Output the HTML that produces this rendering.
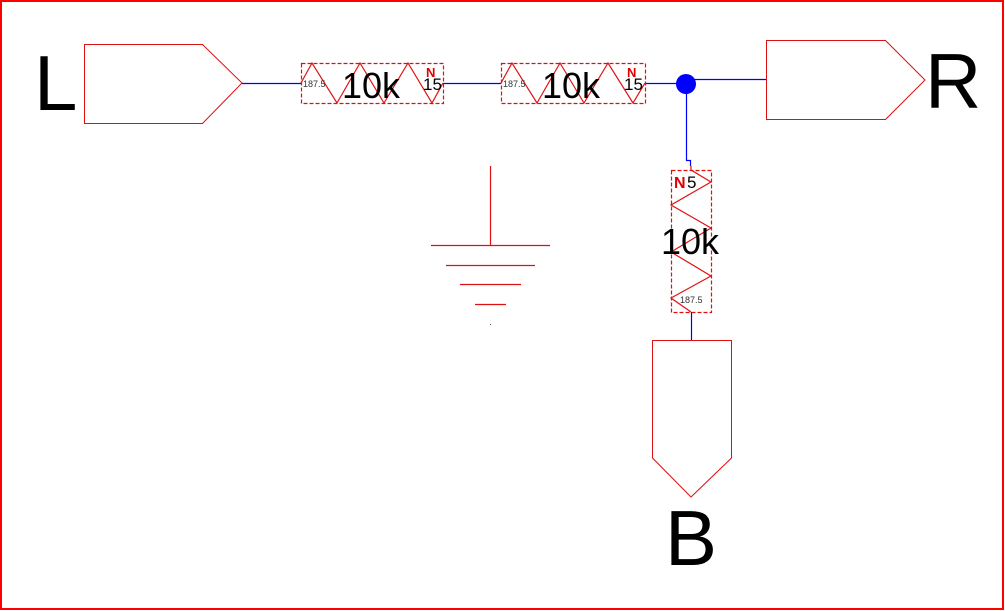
<!DOCTYPE html>
<html><head><style>
html,body{margin:0;padding:0;background:#fff;}
svg{display:block;}
text{font-family:"Liberation Sans",Arial,sans-serif;}
</style></head><body>
<svg width="1005" height="611" viewBox="0 0 1005 611" xmlns="http://www.w3.org/2000/svg">
<rect x="1" y="1" width="1002" height="608" fill="none" stroke="#f00" stroke-width="2"/>
<polygon points="84.5,44.5 202.5,44.5 242,83 202.5,123.5 84.5,123.5" fill="none" stroke="#e01010" stroke-width="1"/>
<text x="34" y="110" font-size="78">L</text>
<polygon points="766.5,40.5 885.5,40.5 925,80 885.5,119.5 766.5,119.5" fill="none" stroke="#e01010" stroke-width="1"/>
<text x="925" y="108" font-size="78">R</text>
<polygon points="652.5,340.5 731.5,340.5 731.5,458 691,497 652.5,458" fill="none" stroke="#e01010" stroke-width="1"/>
<text x="665" y="565" font-size="78">B</text>
<g stroke="#0000ff" stroke-width="1.2" fill="none">
<line x1="242" y1="83.5" x2="301" y2="83.5"/>
<line x1="443" y1="83.5" x2="501" y2="83.5"/>
<line x1="645" y1="83.5" x2="686" y2="83.5"/>
<line x1="686" y1="79.5" x2="766" y2="79.5"/>
<polyline points="686.5,84 686.5,160.5 690.5,160.5 690.5,166"/>
<line x1="691.5" y1="312" x2="691.5" y2="340"/>
</g>
<circle cx="686" cy="84" r="10" fill="#0000ff"/>
<g fill="none" stroke="#e01010" stroke-width="1.2">
<rect x="301.5" y="63.5" width="142" height="40" stroke-dasharray="4,2"/>
<polyline points="301,83 312,63 337,103 360,63 384,103 408,63 432,103 443,83"/>
<rect x="501.5" y="63.5" width="144" height="40" stroke-dasharray="4,2"/>
<polyline points="501,83 512,63 537,103 560,63 584,103 608,63 633,103 645,83"/>
<rect x="671.5" y="170.5" width="40" height="142" stroke-dasharray="4,2"/>
<polyline points="691,166 691,170 711,182 671,205 711,228 671,252 711,276 671,298 691,312"/>
</g>
<g fill="#333" font-size="9">
<text x="303" y="87">187.5</text>
<text x="503" y="87">187.5</text>
<text x="680" y="303">187.5</text>
</g>
<g font-size="36" fill="#000">
<text x="342" y="98">10k</text>
<text x="542" y="98">10k</text>
<text x="661" y="254">10k</text>
</g>
<g font-size="17" fill="#000">
<text x="423" y="90">15</text>
<text x="624" y="90">15</text>
<text x="687" y="188">5</text>
</g>
<g font-size="13" fill="#e00000" font-weight="bold">
<text x="426" y="77">N</text>
<text x="627" y="77">N</text>
<text x="674" y="188" font-size="16">N</text>
</g>
<g stroke="#e01010" stroke-width="1.2">
<line x1="490.5" y1="166" x2="490.5" y2="245"/>
<line x1="431" y1="245.5" x2="550" y2="245.5"/>
<line x1="446" y1="265.5" x2="535" y2="265.5"/>
<line x1="460" y1="284.5" x2="521" y2="284.5"/>
<line x1="475" y1="304.5" x2="506" y2="304.5"/>
</g>
<rect x="490" y="324" width="1" height="1" fill="#666"/>
</svg>
</body></html>
